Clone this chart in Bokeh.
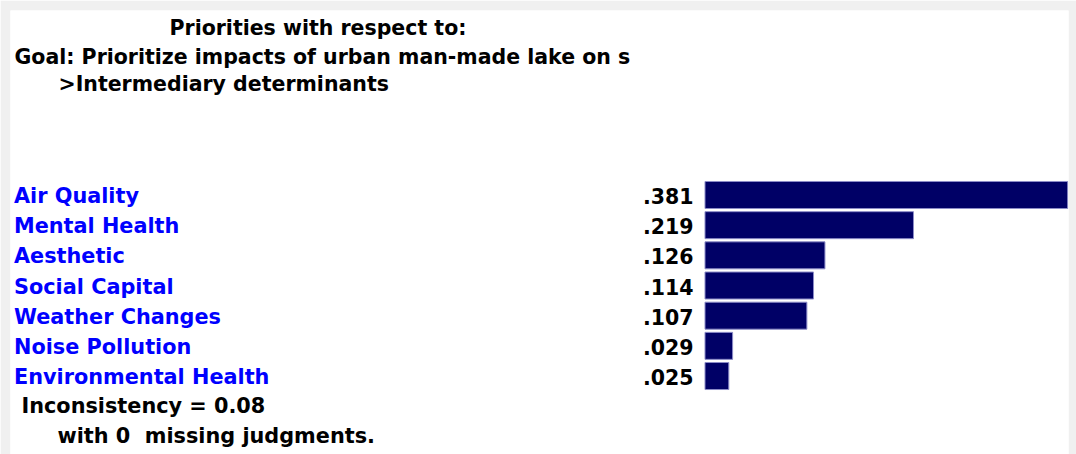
from bokeh.plotting import figure
from bokeh.models import Range1d, ColumnDataSource
from bokeh.core.properties import value
from bokeh.embed import file_html
from bokeh.resources import INLINE

# ---- data ----
title_lines = ["Priorities with respect to:",
               "Goal: Prioritize impacts of urban man-made lake on s",
               ">Intermediary determinants"]
categories = ["Air Quality", "Mental Health", "Aesthetic", "Social Capital",
              "Weather Changes", "Noise Pollution", "Environmental Health"]
priorities = [0.381, 0.219, 0.126, 0.114, 0.107, 0.029, 0.025]
footer_lines = ["Inconsistency = 0.08", "with 0\u00a0 missing judgments."]

# ---- layout constants (page pixels) ----
W, H = 1076, 454
LEFT, TOP, RIGHT = 10, 10, 8
BAR_X0 = 704.5        # pixel where bars start
PX_PER_UNIT = 952.0   # pixels per priority unit
ROW0 = 194.5          # pixel centre of first row
ROW_PITCH = 30.17
FONT = value("DejaVu Sans")
FS_TITLE = "20.5px"
FS = "20.8px"

p = figure(width=W, height=H, output_backend="svg", toolbar_location=None,
           x_range=Range1d(LEFT, W - RIGHT), y_range=Range1d(H, TOP),
           x_axis_type=None, y_axis_type=None,
           min_border_left=LEFT, min_border_top=TOP,
           min_border_right=RIGHT, min_border_bottom=0,
           outline_line_color=None, background_fill_color="white",
           border_fill_color="#f0f0f0")
p.grid.visible = False
p.extra_x_ranges = {"val": Range1d((LEFT - BAR_X0) / PX_PER_UNIT,
                                   (W - RIGHT - BAR_X0) / PX_PER_UNIT)}
p.extra_y_ranges = {"rows": Range1d((H - ROW0) / ROW_PITCH, (TOP - ROW0) / ROW_PITCH)}

idx = list(range(len(categories)))
src = ColumnDataSource(dict(
    y=idx, cat=categories, val=priorities,
    lab=[("%.3f" % v).lstrip("0") for v in priorities],
))

p.hbar(y="y", left=0, right="val", height=0.895, source=src,
       x_range_name="val", y_range_name="rows",
       fill_color="#000066", line_color="#8c8cc8", line_width=1)

common = dict(text_font=FONT, text_font_style="bold", text_baseline="alphabetic")

# category labels
p.text(x=13.5, y="y", text="cat", source=src, y_range_name="rows",
       text_color="#0000ff", text_align="left", y_offset=1,
       text_font_size=FS, **common)
# values
p.text(x=693, y="y", text="lab", source=src, y_range_name="rows",
       text_color="black", text_align="right", y_offset=1,
       text_font_size=FS_TITLE, **common)

# title lines
p.text(x=[169, 14, 58], y=[27, 56, 83], text=title_lines,
       text_color="black", text_align="left", text_font_size=FS_TITLE, **common)

# footer lines
p.text(x=[21, 57], y=[405, 435], text=footer_lines,
       text_color="black", text_align="left", text_font_size=FS, **common)

open("out.html", "w").write(file_html(p, INLINE))
